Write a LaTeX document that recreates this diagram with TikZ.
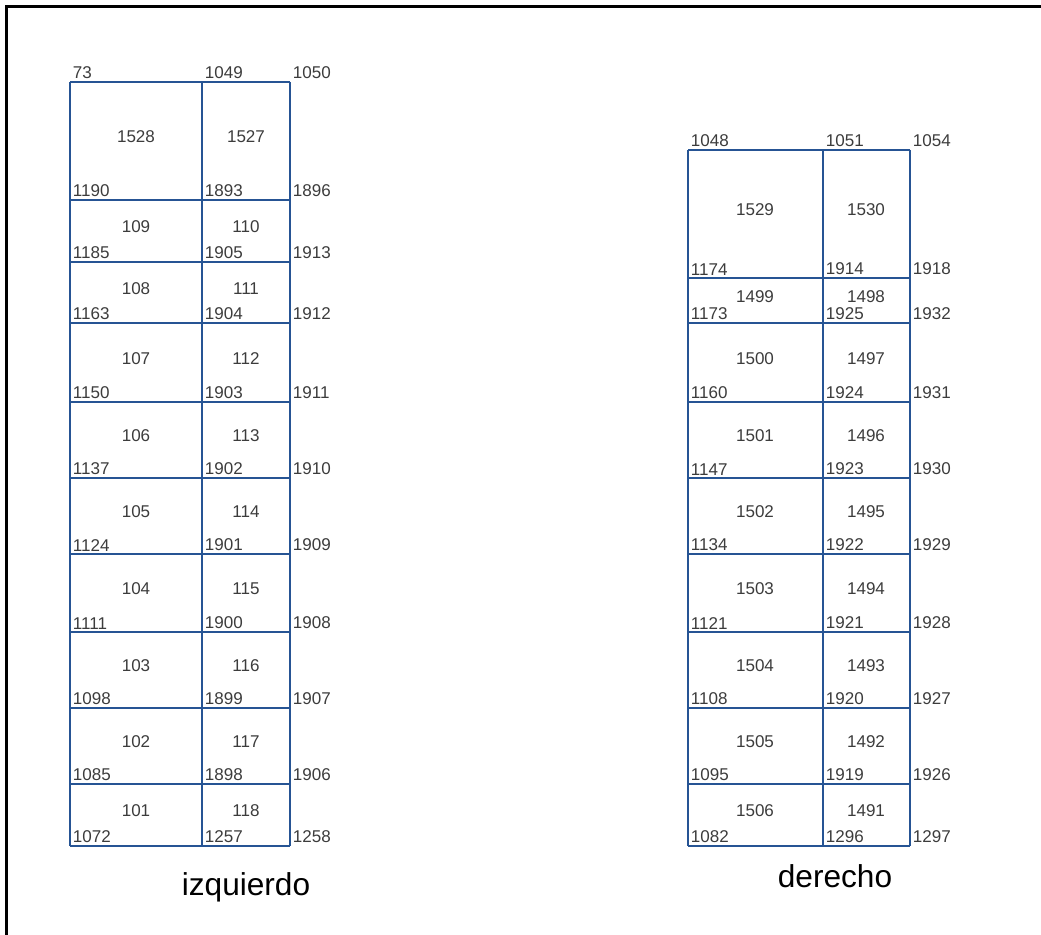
\documentclass[tikz,border=0pt]{standalone}
\usepackage{fontspec}
\setmainfont{Liberation Sans}
\usepackage{tikz}
\usetikzlibrary{positioning}

\definecolor{gridblue}{RGB}{38,84,148}
\definecolor{numgray}{RGB}{60,60,60}

\tikzset{
	gridline/.style={draw=gridblue, line width=1.1pt},
	corner/.style={anchor=south west, inner sep=1.5pt, text=numgray, font=\fontsize{9.7}{11}\selectfont},
	cell/.style={inner sep=0pt, text=numgray, font=\fontsize{9.7}{11}\selectfont},
	side/.style={anchor=base, font=\fontsize{18}{21}\selectfont}
}

\begin{document}
\begin{tikzpicture}[x=0.02cm, y=-0.02cm]

		\useasboundingbox (0,0) rectangle (1041,935);
		\draw[black, line width=1.7pt] (6.5,935) -- (6.5,6.5) -- (1041,6.5);

		% lado izquierdo
		\begin{scope}[shift={(70,82)}]
			\foreach \y in {0,118,180,241,320,396,472,550,626,702,764}
				\draw[gridline] (0,\y) -- (220,\y);
			\foreach \x in {0,132,220}
				\draw[gridline] (\x,0) -- (\x,764);
			\foreach \y/\a/\b/\c in {0/73/1049/1050, 118/1190/1893/1896, 180/1185/1905/1913,
					241/1163/1904/1912, 320/1150/1903/1911, 396/1137/1902/1910, 472/1124/1901/1909,
					550/1111/1900/1908, 626/1098/1899/1907, 702/1085/1898/1906, 764/1072/1257/1258} {
				\node[corner] (iz\a) at (0,\y) {\a};
				\node[corner] (iz\b) at (132,\y) {\b};
				\node[corner] (iz\c) at (220,\y) {\c};
			}
			\foreach \ya/\yb/\a/\b in {0/118/1528/1527, 118/180/109/110, 180/241/108/111,
					241/320/107/112, 320/396/106/113, 396/472/105/114, 472/550/104/115,
					550/626/103/116, 626/702/102/117, 702/764/101/118} {
				\node[cell] (izc\a) at (66,{(\ya+\yb)/2-4}) {\a};
				\node[cell] (izc\b) at (176,{(\ya+\yb)/2-4}) {\b};
			}
		\end{scope}
		\node[side] (izq) at (246,895) {izquierdo};

		% lado derecho
		\begin{scope}[shift={(688,150)}]
			\foreach \y in {0,128,173,252,328,404,482,558,634,696}
				\draw[gridline] (0,\y) -- (222,\y);
			\foreach \x in {0,135,222}
				\draw[gridline] (\x,0) -- (\x,696);
			\foreach \y/\a/\b/\c in {0/1048/1051/1054, 128/1174/1914/1918, 173/1173/1925/1932,
					252/1160/1924/1931, 328/1147/1923/1930, 404/1134/1922/1929, 482/1121/1921/1928,
					558/1108/1920/1927, 634/1095/1919/1926, 696/1082/1296/1297} {
				\node[corner] (de\a) at (0,\y) {\a};
				\node[corner] (de\b) at (135,\y) {\b};
				\node[corner] (de\c) at (222,\y) {\c};
			}
			\foreach \ya/\yb/\a/\b in {0/128/1529/1530, 128/173/1499/1498, 173/252/1500/1497,
					252/328/1501/1496, 328/404/1502/1495, 404/482/1503/1494, 482/558/1504/1493,
					558/634/1505/1492, 634/696/1506/1491} {
				\node[cell] (dec\a) at (67,{(\ya+\yb)/2-4}) {\a};
				\node[cell] (dec\b) at (178,{(\ya+\yb)/2-4}) {\b};
			}
		\end{scope}
		\node[side] (der) at (835,887) {derecho};

	\end{tikzpicture}
\end{document}
